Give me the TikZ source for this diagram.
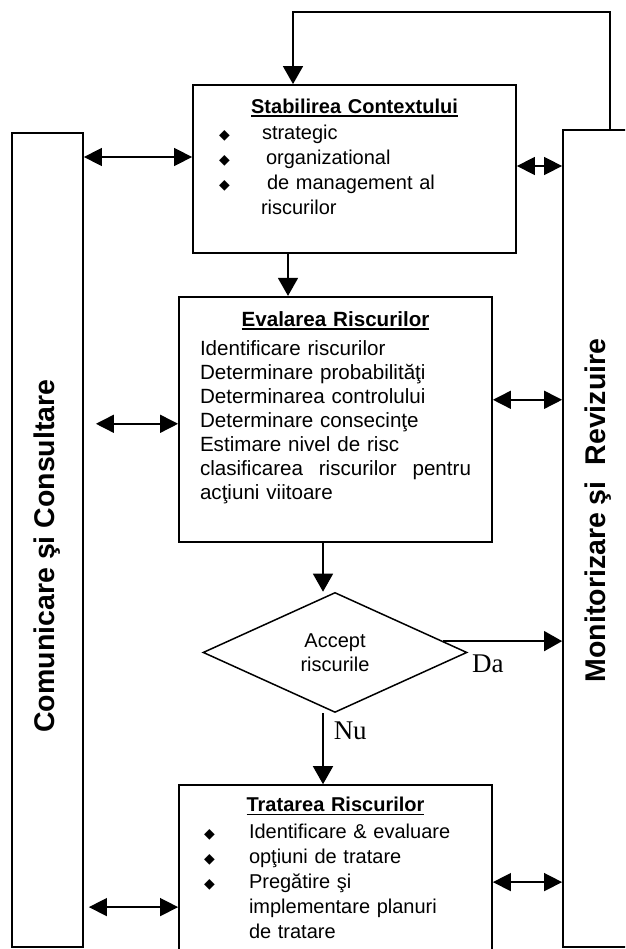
\documentclass[tikz,border=0pt]{standalone}
\usepackage{fontspec}
\setmainfont{Liberation Sans}
\newfontfamily\seriffont{Liberation Serif}
\newfontfamily\symfont{DejaVu Sans}
\usepackage{graphicx}
\usetikzlibrary{arrows.meta}
\usetikzlibrary{positioning}
\usetikzlibrary{shapes.geometric}
\AtBeginDocument{\lineskiplimit=-50pt}
\newsavebox{\headbox}
\newcommand{\dia}{\raisebox{0.5pt}{\symfont\fontsize{14}{14}\selectfont ◆}}
\newcommand{\itm}[2][43pt]{\makebox[#1][l]{\dia}#2}
\newcommand{\headline}[1]{\sbox{\headbox}{\bfseries #1}%
  \makebox[\hsize]{\rlap{\raisebox{-3.5pt}{\rule{\wd\headbox}{1.8pt}}}\usebox{\headbox}}}

\begin{document}
\begin{tikzpicture}[x=1pt, y=-1pt,
	box/.style={draw, line width=1.8pt, inner sep=0pt},
	col/.style={box, font=\bfseries\fontsize{28.5}{28.5}\selectfont},
	txt/.style={inner sep=0pt, align=left, font=\fontsize{20}{25}\selectfont},
	flow/.style={-{Triangle[length=18pt,width=20pt]}, line width=1.5pt},
	link/.style={{Triangle[length=18pt,width=18pt]}-{Triangle[length=18pt,width=18pt]}, line width=1.5pt},
	answer/.style={inner sep=0pt, font=\seriffont\fontsize{27}{27}\selectfont}]
	\useasboundingbox (0,0) rectangle (625,949);
	\clip (0,0) rectangle (625,949);
	%% side columns
	\node [col, minimum width=71pt, minimum height=814pt] (comm) at (47.5,540) {\rotatebox{90}{Comunicare şi Consultare\hspace*{32pt}}};
	\node [col, minimum width=70pt, minimum height=817pt] (mon) at (598,538.5) {\rotatebox{90}{\hspace*{56pt}Monitorizare şi~~Revizuire}};
	%% main chain
	\node [box, minimum width=323pt, minimum height=168pt] (ctx) at (354.5,169) {};
	\node [box, minimum width=313pt, minimum height=245pt, below=42pt of ctx, xshift=-19pt] (eval) {};
	\node [draw, diamond, line width=1.5pt, minimum width=264pt, minimum height=120pt, inner sep=0pt, align=center,
		font=\fontsize{20}{24}\selectfont, below=49pt of eval, xshift=-0.5pt] (accept) {Accept\\riscurile};
	\node [box, minimum width=313pt, minimum height=180pt, below=71pt of accept, xshift=0.5pt] (treat) {};
	%% box texts
	\node [txt, text width=271pt, below=15pt of ctx.north] (ctxtext) {\headline{Stabilirea Contextului}\\[1pt]
		\itm{strategic}\\
		\itm{\hspace{4pt}organizational}\\
		\itm{\hspace{5pt}de management al}\\
		\hspace*{42pt}riscurilor};
	\node [txt, text width=271pt, below=15pt of eval.north, font=\fontsize{20.6}{24}\selectfont] (evaltext) {\headline{Evalarea Riscurilor}\\[5pt]
		Identificare riscurilor\\
		Determinare probabilităţi\\
		Determinarea controlului\\
		Determinare consecinţe\\
		Estimare nivel de risc\\
		\leavevmode\hbox to\hsize{clasificarea\hfill riscurilor\hfill pentru}\\
		acţiuni viitoare};
	\node [txt, text width=263pt, below=13pt of treat.north] (treattext) {\headline{Tratarea Riscurilor}\\[2pt]
		\itm[45pt]{Identificare \& evaluare}\\
		\itm[45pt]{opţiuni de tratare}\\
		\itm[45pt]{Pregătire şi}\\
		\hspace*{45pt}implementare planuri\\
		\hspace*{45pt}de tratare};
	%% flow
	\draw [flow] ([xshift=-66.5pt]ctx.south) -- ([xshift=-66.5pt]ctx.south |- eval.north);
	\draw [flow] ([xshift=-12.5pt]eval.south) -- ([xshift=-12.5pt]eval.south |- accept.north);
	\draw [flow] ([xshift=-12pt]accept.south) -- node [answer, right=10pt, pos=0.25] (nu) {Nu} ([xshift=-12pt]accept.south |- treat.north);
	\draw [flow] (accept.6) -- node [answer, below=13pt, pos=0.376] (da) {Da} (accept.6 -| mon.west);
	\draw [flow] ([xshift=12pt]mon.north) -- ++(0,-117) -| ([xshift=-61.5pt]ctx.north);
	%% communication links
	\draw [link] ([yshift=12pt]ctx.west) -- ([yshift=12pt]ctx.west -| comm.east);
	\draw [link, shorten >=12pt] ([yshift=-4.5pt]eval.west) -- ([yshift=-4.5pt]eval.west -| comm.east);
	\draw [link, shorten >=5pt] ([yshift=-32pt]treat.west) -- ([yshift=-32pt]treat.west -| comm.east);
	%% monitoring links
	\draw [link] ([yshift=3pt]ctx.east) -- ([yshift=3pt]ctx.east -| mon.west);
	\draw [link] ([yshift=19.5pt]eval.east) -- ([yshift=19.5pt]eval.east -| mon.west);
	\draw [link] ([yshift=-7pt]treat.east) -- ([yshift=-7pt]treat.east -| mon.west);
\end{tikzpicture}
\end{document}
